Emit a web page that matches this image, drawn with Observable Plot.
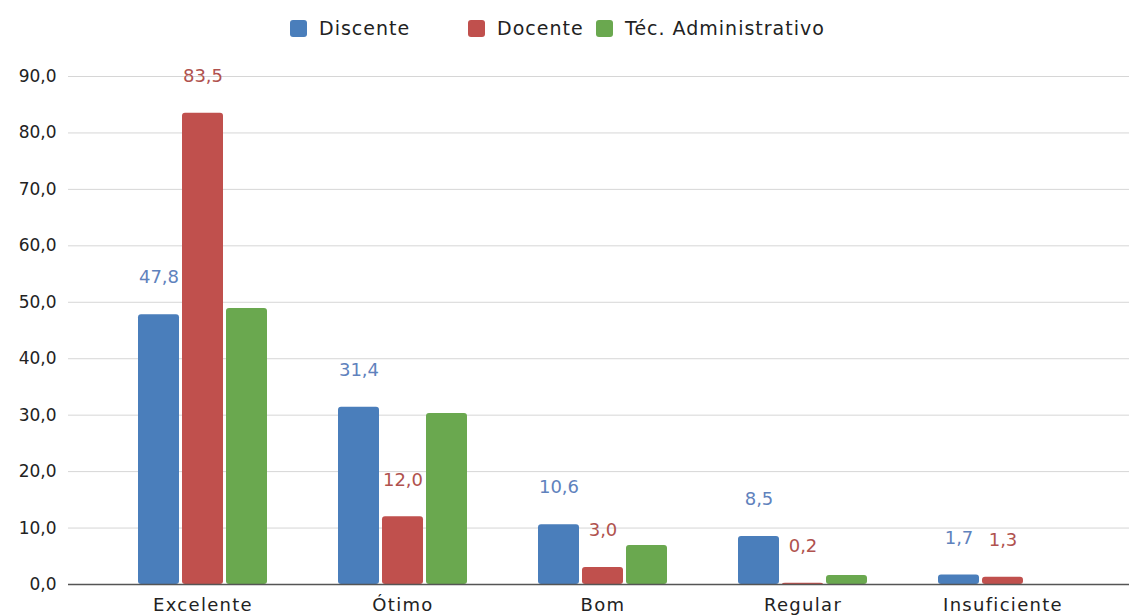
<!DOCTYPE html>
<html>
<head>
<meta charset="utf-8">
<script src="https://cdn.jsdelivr.net/npm/d3@7"></script>
<script src="https://cdn.jsdelivr.net/npm/@observablehq/plot@0.6"></script>
<style>
  html, body { margin: 0; padding: 0; background: #fff; }
  #wrap { width: 1129px; height: 615px; overflow: hidden; position: relative; }
  #legend { height: 50px; position: relative;
    font-family: "DejaVu Sans", sans-serif; font-size: 19px; letter-spacing: 1px; color: #222; }
  .item { position: absolute; top: 19px; display: flex; align-items: center; height: 18px; white-space: nowrap; }
  .sw { width: 17px; height: 17px; border-radius: 3px; margin-right: 12px; }
  svg { display: block; }
  [aria-label="x-axis tick label"] text { letter-spacing: 1.3px; }
</style>
</head>
<body>
<div id="wrap">
  <div id="legend"></div>
  <div id="chart"></div>
</div>
<script>
const categories = ["Excelente", "Ótimo", "Bom", "Regular", "Insuficiente"];
const seriesNames = ["Discente", "Docente", "Téc. Administrativo"];
const discente = [47.8, 31.4, 10.6, 8.5, 1.7];
const docente = [83.5, 12.0, 3.0, 0.2, 1.3];
const tecnico = [48.9, 30.3, 6.9, 1.6, 0];
const yTicks = [0, 10, 20, 30, 40, 50, 60, 70, 80, 90];
const barColors = ["#4a7ebb", "#c0504d", "#6aa84f"];
const labelColors = ["#5f82bd", "#b0524e"];
const legendLeft = [290, 468, 596];

const fmt = d => d.toFixed(1).replace(".", ",");

const seriesValues = [discente, docente, tecnico];
const tables = seriesValues.map((vals, s) =>
  categories.map((c, i) => ({category: c, series: seriesNames[s], value: vals[i]})));

// legend
const legend = document.getElementById("legend");
seriesNames.forEach((name, i) => {
  const it = document.createElement("div");
  it.className = "item";
  it.style.left = legendLeft[i] + "px";
  const sw = document.createElement("div");
  sw.className = "sw";
  sw.style.background = barColors[i];
  const tx = document.createElement("span");
  tx.textContent = name;
  it.appendChild(sw); it.appendChild(tx);
  legend.appendChild(it);
});

// bar placement within each 129px-wide group band
const insets = [
  {insetLeft: 0, insetRight: 88},
  {insetLeft: 44, insetRight: 44},
  {insetLeft: 88, insetRight: 0}
];
const labelDx = [-44, 0];

const chart = Plot.plot({
  width: 1129,
  height: 565,
  marginLeft: 68,
  marginRight: 0,
  marginTop: 26,
  marginBottom: 31,
  style: {fontFamily: "DejaVu Sans, sans-serif", fontSize: "18px", color: "#222", background: "#fff"},
  x: {domain: categories, range: [101, 1104], paddingInner: 0.357, paddingOuter: 0.1785, label: null},
  y: {domain: [0, 90], label: null},
  marks: [
    Plot.ruleY(yTicks.filter(d => d > 0), {stroke: "#d6d6d6", strokeWidth: 1}),
    Plot.axisY({ticks: yTicks, tickSize: 0, tickPadding: 12, tickFormat: fmt, fontSize: 17, fill: "#222", label: null}),
    Plot.axisX({tickSize: 0, tickPadding: 14, fontSize: 18, fill: "#222", label: null}),
    ...tables.map((t, s) => Plot.barY(t, {x: "category", y: "value", fill: barColors[s], rx: 3, ...insets[s]})),
    Plot.ruleY([0], {stroke: "#555", strokeWidth: 1.5}),
    ...tables.slice(0, 2).map((t, s) => Plot.text(t, {
      x: "category", y: "value", text: d => fmt(d.value), dx: labelDx[s], dy: -37,
      fill: labelColors[s], fontSize: 18
    }))
  ]
});
document.getElementById("chart").appendChild(chart);
</script>
</body>
</html>
